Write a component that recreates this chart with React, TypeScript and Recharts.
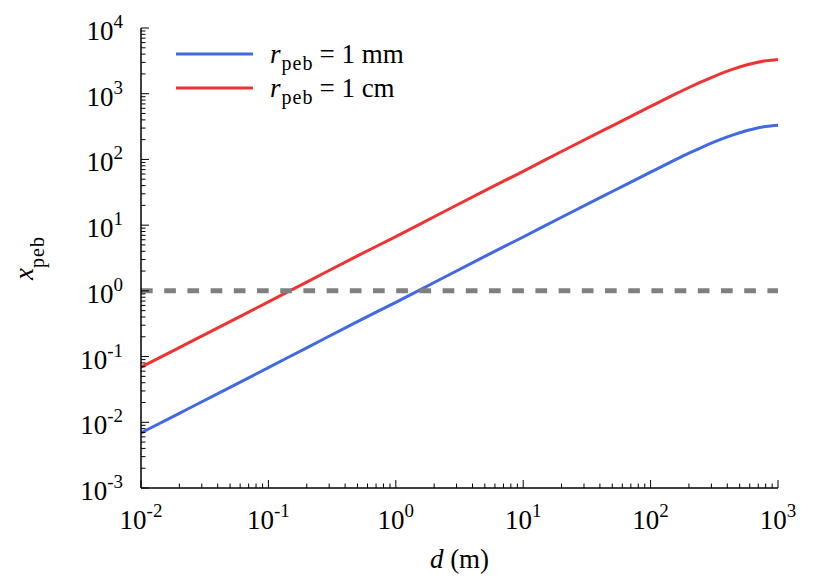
import React from 'react';
import { LineChart, Line, XAxis, YAxis, ReferenceLine, Legend } from 'recharts';

// d (m) sample points
const distance = [0.01, 0.02, 0.05, 0.1, 0.2, 0.5, 1, 2, 5, 10, 20, 50, 100, 130, 160, 200, 250, 320, 400, 500, 630, 800, 1000];
// x_peb for r_peb = 1 mm
const xpebMm = [0.0069, 0.0137, 0.034, 0.068, 0.136, 0.34, 0.67, 1.34, 3.35, 6.6, 13.2, 32.5, 64, 82.8, 101, 124.3, 151.4, 185.9, 220, 255, 288.5, 316.3, 332];
// x_peb for r_peb = 1 cm
const xpebCm = [0.069, 0.137, 0.34, 0.68, 1.36, 3.4, 6.7, 13.4, 33.5, 66, 132, 325, 640, 828, 1010, 1243, 1514, 1859, 2200, 2550, 2885, 3163, 3330];

const seriesNames = ['1 mm', '1 cm'];
const seriesColors = ['#4169e1', '#ee3333'];

const xDecades = [0.01, 0.1, 1, 10, 100, 1000];
const yDecades = [0.001, 0.01, 0.1, 1, 10, 100, 1000, 10000];
const minorSteps = [2, 3, 4, 5, 6, 7, 8, 9];

const withMinor = (decades: number[]) => {
  const out: number[] = [];
  decades.forEach((d, i) => {
    out.push(d);
    if (i < decades.length - 1) minorSteps.forEach((m) => out.push(+(d * m).toPrecision(6)));
  });
  return out;
};
const xTicks = withMinor(xDecades);
const yTicks = withMinor(yDecades);

const data = distance.map((d, i) => ({ d, mm: xpebMm[i], cm: xpebCm[i] }));

const FONT = 'Liberation Serif, Times New Roman, DejaVu Serif, serif';
const txt = { fontFamily: FONT };
const MAJOR = 8;
const MINOR = 4.5;

const isMajor = (v: number) => Math.abs(Math.log10(v) - Math.round(Math.log10(v))) < 1e-6;
const exponent = (v: number) => String(Math.round(Math.log10(v)));

const BottomTick = (props: any) => {
  const { x, y, payload } = props;
  const major = isMajor(payload.value);
  return (
    <g>
      <line x1={x} x2={x} y1={y} y2={y - (major ? MAJOR : MINOR)} stroke="#000" strokeWidth={1} />
      {major && (
        <text x={x} y={y + 41} textAnchor="middle" style={txt} fontSize={27} fill="#000">
          10<tspan dy={-12} fontSize={19}>{exponent(payload.value)}</tspan>
        </text>
      )}
    </g>
  );
};

const TopTick = (props: any) => {
  const { x, y, payload } = props;
  const major = isMajor(payload.value);
  return <line x1={x} x2={x} y1={y} y2={y + (major ? MAJOR : MINOR)} stroke="#000" strokeWidth={1} />;
};

const LeftTick = (props: any) => {
  const { x, y, payload } = props;
  const major = isMajor(payload.value);
  return (
    <g>
      <line x1={x} x2={x + (major ? MAJOR : MINOR)} y1={y} y2={y} stroke="#000" strokeWidth={1} />
      {major && (
        <text x={x - 18} y={y + 12} textAnchor="end" style={txt} fontSize={27} fill="#000">
          10<tspan dy={-12} fontSize={19}>{exponent(payload.value)}</tspan>
        </text>
      )}
    </g>
  );
};

const RightTick = (props: any) => {
  const { x, y, payload } = props;
  const major = isMajor(payload.value);
  return <line x1={x} x2={x - (major ? MAJOR : MINOR)} y1={y} y2={y} stroke="#000" strokeWidth={1} />;
};

const XTitle = (props: any) => {
  const { viewBox } = props;
  const cx = viewBox.x + viewBox.width / 2;
  return (
    <text x={cx} y={568} textAnchor="middle" style={txt} fontSize={27} fill="#000">
      <tspan fontStyle="italic">d</tspan> (m)
    </text>
  );
};

const YTitle = (props: any) => {
  const { viewBox } = props;
  const cy = viewBox.y + viewBox.height / 2;
  const bx = 33;
  return (
    <text x={bx} y={cy} transform={`rotate(-90 ${bx} ${cy})`} textAnchor="middle" style={txt} fontSize={27} fill="#000">
      <tspan fontStyle="italic">x</tspan>
      <tspan dy={11} fontSize={20} letterSpacing={1}>peb</tspan>
    </text>
  );
};

const renderLegend = (props: any) => {
  const entries = [...(props.payload || [])].sort(
    (a: any, b: any) => seriesNames.indexOf(a.value) - seriesNames.indexOf(b.value)
  );
  return (
    <svg width={450} height={110} style={{ display: 'block' }}>
      {entries.map((entry: any, i: number) => {
        const ly = 54 + i * 34;
        return (
          <g key={`leg-${i}`}>
            <line x1={176} x2={253} y1={ly} y2={ly} stroke={entry.color} strokeWidth={3} />
            <text x={270} y={ly + 9} style={txt} fontSize={27} fill="#000">
              <tspan fontStyle="italic">r</tspan>
              <tspan dx={1} dy={7} fontSize={20} letterSpacing={1}>peb</tspan>
              <tspan dx={6} dy={-7}>= {entry.value}</tspan>
            </text>
          </g>
        );
      })}
    </svg>
  );
};

export default function App() {
  return (
    <div style={{ position: 'absolute', left: 0, top: 0, width: 830, height: 580, background: '#fff' }}>
      <LineChart width={830} height={580} data={data} margin={{ top: 28, right: 52, bottom: 0, left: 0 }}>
        <XAxis
          xAxisId="bottom"
          dataKey="d"
          type="number"
          scale="log"
          domain={[0.01, 1000]}
          allowDataOverflow
          ticks={xTicks}
          interval={0}
          height={92}
          tickLine={false}
          tickSize={0}
          tickMargin={0}
          axisLine={{ stroke: '#000', strokeWidth: 1.5 }}
          tick={<BottomTick />}
          label={<XTitle />}
        />
        <XAxis
          xAxisId="top"
          orientation="top"
          dataKey="d"
          type="number"
          scale="log"
          domain={[0.01, 1000]}
          allowDataOverflow
          ticks={xTicks}
          interval={0}
          height={0}
          tickLine={false}
          tickSize={0}
          tickMargin={0}
          axisLine={{ stroke: '#000', strokeWidth: 1.5 }}
          tick={<TopTick />}
        />
        <YAxis
          yAxisId="left"
          type="number"
          scale="log"
          domain={[0.001, 10000]}
          allowDataOverflow
          ticks={yTicks}
          interval={0}
          width={141}
          tickLine={false}
          tickSize={0}
          tickMargin={0}
          axisLine={{ stroke: '#000', strokeWidth: 1.5 }}
          tick={<LeftTick />}
          label={<YTitle />}
        />
        <YAxis
          yAxisId="right"
          orientation="right"
          type="number"
          scale="log"
          domain={[0.001, 10000]}
          allowDataOverflow
          ticks={yTicks}
          interval={0}
          width={0}
          tickLine={false}
          tickSize={0}
          tickMargin={0}
          axisLine={{ stroke: '#000', strokeWidth: 1.5 }}
          tick={<RightTick />}
        />
        <Legend
          layout="vertical"
          align="center"
          verticalAlign="middle"
          content={renderLegend}
          wrapperStyle={{ position: 'absolute', left: 0, top: 0, width: 450, height: 110 }}
        />
        <Line
          xAxisId="bottom"
          yAxisId="left"
          type="monotone"
          dataKey="mm"
          name={seriesNames[0]}
          stroke={seriesColors[0]}
          strokeWidth={3}
          dot={false}
          isAnimationActive={false}
        />
        <Line
          xAxisId="bottom"
          yAxisId="left"
          type="monotone"
          dataKey="cm"
          name={seriesNames[1]}
          stroke={seriesColors[1]}
          strokeWidth={3}
          dot={false}
          isAnimationActive={false}
        />
        <ReferenceLine
          xAxisId="bottom"
          yAxisId="left"
          y={1}
          stroke="#808080"
          strokeWidth={5}
          strokeDasharray="11.7 11.5"
        />
      </LineChart>
    </div>
  );
}
